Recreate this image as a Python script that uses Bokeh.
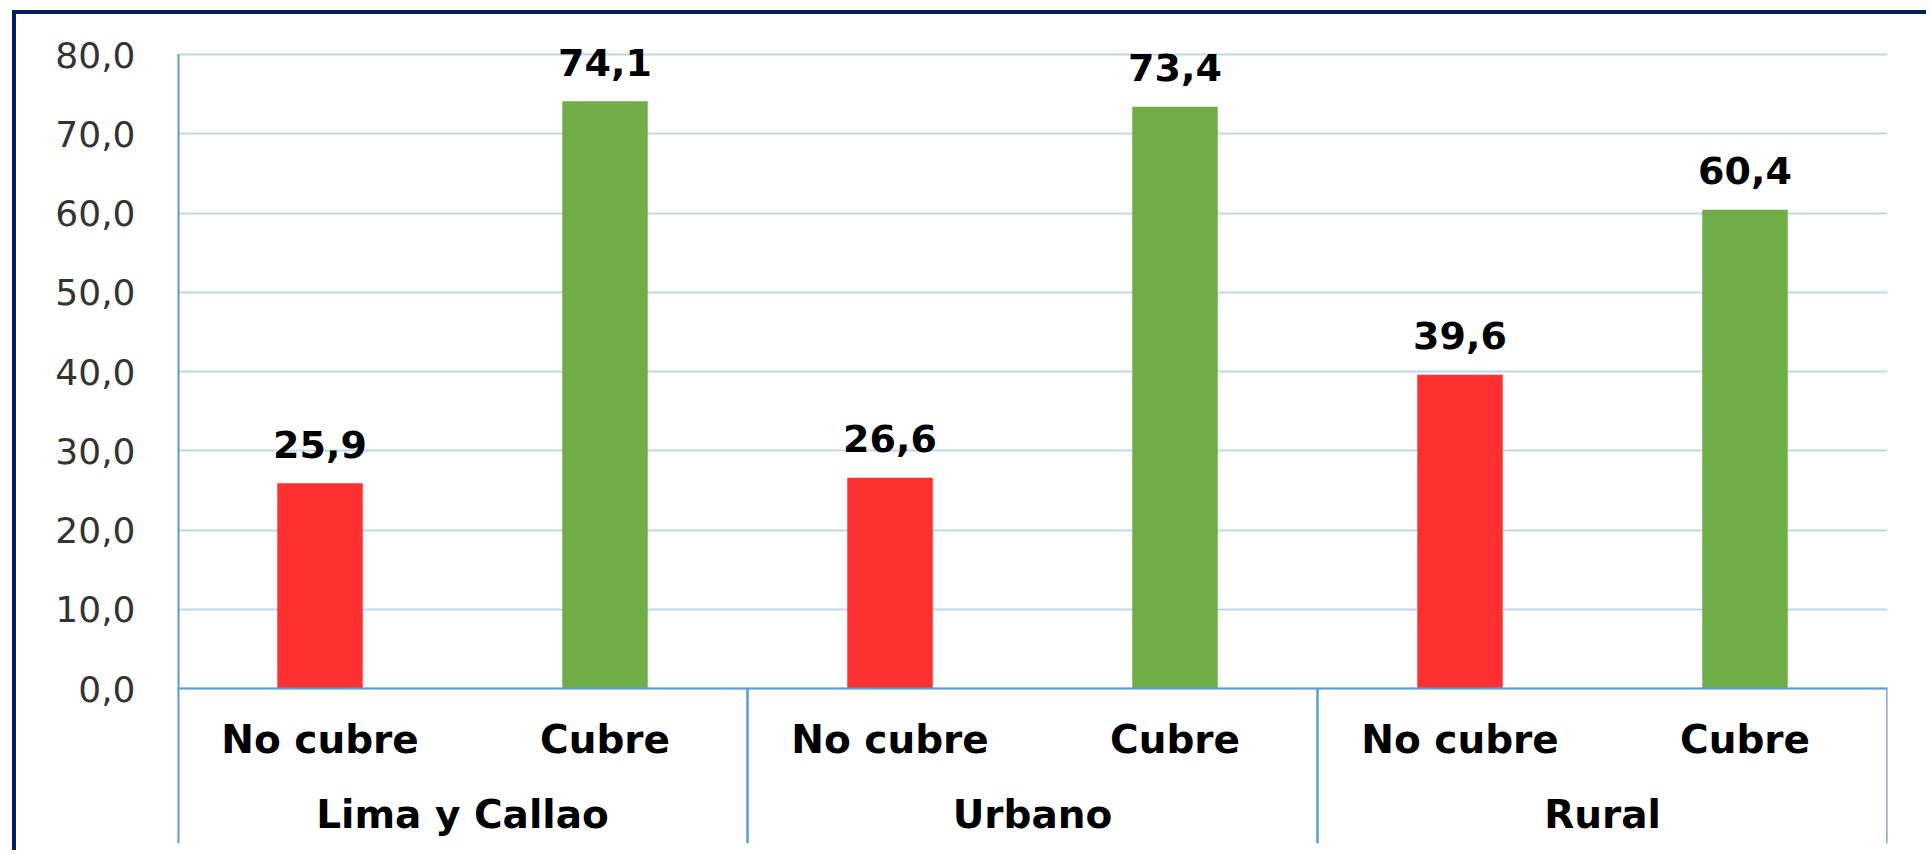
from bokeh.plotting import figure
from bokeh.models import FactorRange, Range1d, FixedTicker, ColumnDataSource, Span
from bokeh.core.properties import value
from bokeh.embed import file_html
from bokeh.resources import INLINE

# ---- data ----
groups = ["Lima y Callao", "Urbano", "Rural"]
statuses = ["No cubre", "Cubre"]
no_cubre = [25.9, 26.6, 39.6]
cubre = [74.1, 73.4, 60.4]
y_ticks = [0, 10, 20, 30, 40, 50, 60, 70, 80]
y_tick_labels = ["0,0", "10,0", "20,0", "30,0", "40,0", "50,0", "60,0", "70,0", "80,0"]
status_colors = {"No cubre": "#ff3030", "Cubre": "#70ad47"}

# ---- layout constants (pixels) ----
frame_h_data = 634      # pixels from 0 to 80
below_px = 155          # label band below the zero line
top_pad_px = 40         # room above the 80 line (data labels may rise above it)
y_top = 80
px_per_unit = frame_h_data / y_top
y_start = -below_px / px_per_unit
y_end = y_top + top_pad_px / px_per_unit
baseline_fix = 13       # empirical shift of svg text with alphabetic baseline

factors = [(g, s) for g in groups for s in statuses]
vals = []
for i, g in enumerate(groups):
    vals += [no_cubre[i], cubre[i]]
colors = [status_colors[s] for (_, s) in factors]
labels = [("%.1f" % v).replace(".", ",") for v in vals]

src = ColumnDataSource(dict(x=factors, top=vals, color=colors, label=labels,
                            sub=[s for (_, s) in factors]))

p = figure(x_range=FactorRange(*factors), y_range=Range1d(y_start, y_end),
           width=1914, height=840, output_backend="svg", toolbar_location=None,
           title=None, x_axis_location=None,
           min_border_left=161, min_border_right=43, min_border_top=40 - top_pad_px, min_border_bottom=11)
p.x_range.range_padding = 0
p.x_range.group_padding = 0
p.x_range.factor_padding = 0
p.x_range.subgroup_padding = 0

p.styles = {"border-top": "4px solid #002060", "border-left": "4px solid #002060",
            "margin-top": "10px", "margin-left": "12px"}

p.outline_line_color = None
p.background_fill_color = "white"
p.border_fill_color = "white"

p.xgrid.visible = False
p.ygrid.ticker = FixedTicker(ticks=y_ticks)
p.ygrid.grid_line_color = "#bdd7ee"
p.ygrid.grid_line_width = 2

ax = p.yaxis[0]
ax.ticker = FixedTicker(ticks=y_ticks)
ax.major_label_overrides = {t: l for t, l in zip(y_ticks, y_tick_labels)}
ax.major_tick_line_color = None
ax.minor_tick_line_color = None
ax.major_tick_out = 0
ax.major_tick_in = 0
ax.axis_line_color = None
ax.major_label_standoff = 42
ax.major_label_text_font = "DejaVu Sans"
ax.major_label_text_font_size = "36px"
ax.major_label_text_color = "#333333"

p.vbar(x="x", top="top", bottom=0, width=0.3, color="color", line_color=None, source=src)

# x axis line at zero
p.add_layout(Span(location=0, dimension="width", line_color="#5b9bd5", line_width=2))

# vertical axis line (from the top tick down through the label band)
left_edge = (groups[0], statuses[0], -0.5)
p.segment(x0=[left_edge], y0=[y_ticks[-1]], x1=[left_edge], y1=[y_start],
          line_color="#5b9bd5", line_width=4)

# group separators
sep_x = [(groups[1], statuses[0], -0.5), (groups[2], statuses[0], -0.5), (groups[2], statuses[1], 0.5)]
p.segment(x0=sep_x, y0=[0] * 3, x1=sep_x, y1=[y_start] * 3, line_color="#5b9bd5", line_width=2.5)

font = value("DejaVu Sans")

# data labels
p.text(x="x", y="top", text="label", source=src, text_align="center", text_baseline="alphabetic",
       y_offset=-26 - baseline_fix, text_font=font, text_font_style="bold",
       text_font_size="38px", text_color="black")

# sub-category labels
p.text(x="x", y=0, text="sub", source=src, text_align="center", text_baseline="alphabetic",
       y_offset=64 - baseline_fix, text_font=font, text_font_style="bold",
       text_font_size="39px", text_color="black")

# group labels
gsrc = ColumnDataSource(dict(x=[(g, statuses[1], -0.5) for g in groups], text=groups))
p.text(x="x", y=0, text="text", source=gsrc, text_align="center", text_baseline="alphabetic",
       y_offset=139 - baseline_fix, text_font=font, text_font_style="bold",
       text_font_size="39px", text_color="black")

open("out.html", "w").write(file_html(p, INLINE))
